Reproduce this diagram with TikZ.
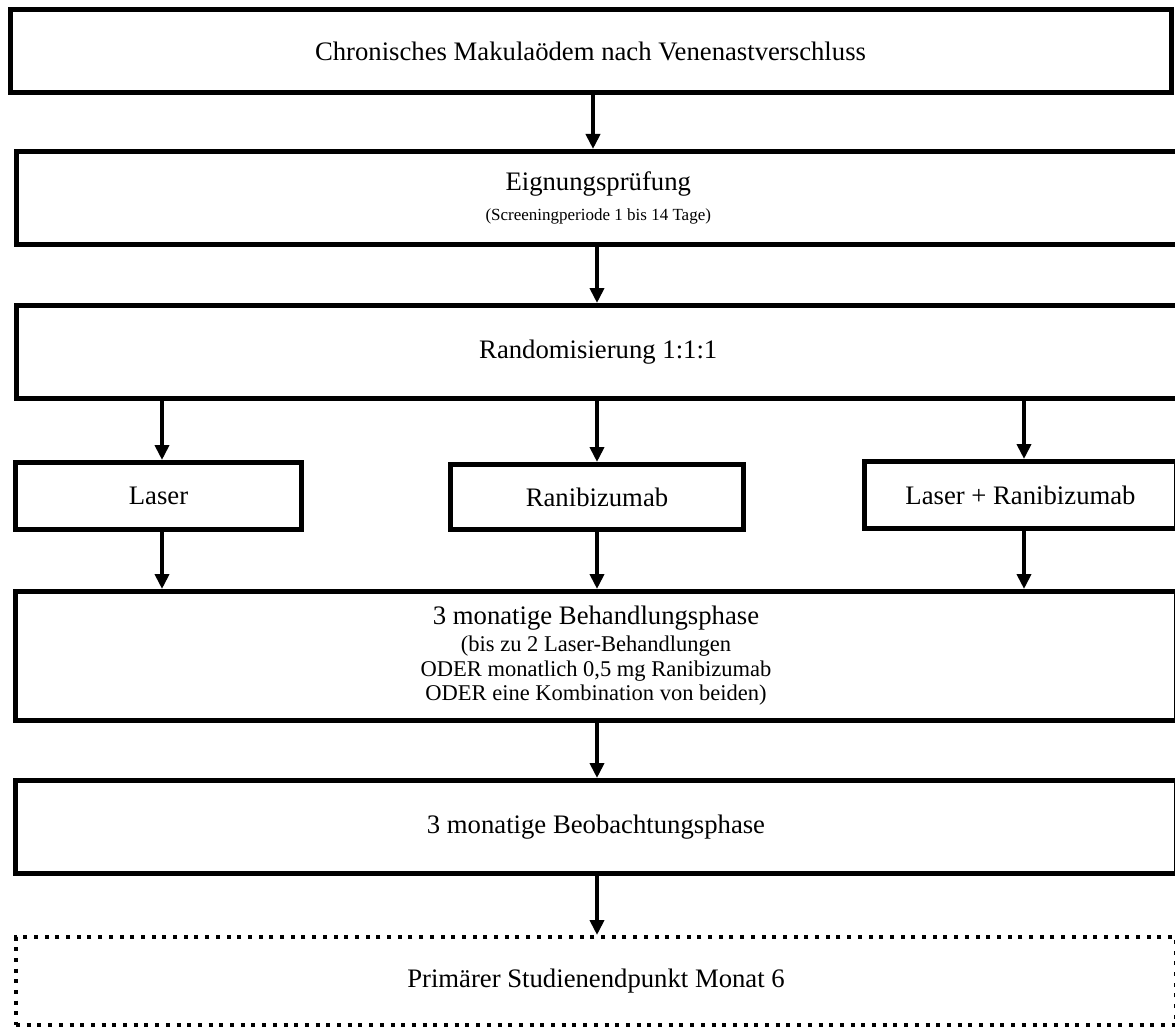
\documentclass[tikz,border=0pt]{standalone}
\usepackage{fontspec}
\setmainfont{Liberation Serif}
\usetikzlibrary{arrows.meta}
\newcommand\fbig{\fontsize{26.7}{30}\selectfont}
\newcommand\fsubt{\fontsize{22.5}{24.5}\selectfont}
\newcommand\fsmallt{\fontsize{17}{20}\selectfont}
\begin{document}
\begin{tikzpicture}[x=1pt,y=-1pt,
  box/.style={draw, line width=5pt, rectangle, inner sep=0pt, align=center, font=\fbig},
  dotbox/.style={draw, line width=4pt, dash pattern=on 4pt off 6.7pt, rectangle, inner sep=0pt, align=center, font=\fbig},
  arr/.style={line width=4pt, -{Triangle[width=14pt,length=15pt]}}]
\useasboundingbox (0,0) rectangle (1175,1027);
\clip (0,0) rectangle (1175,1027);
\fill[white] (0,0) rectangle (1175,1027);

\node[box, minimum width=1161pt, minimum height=83pt] (b1) at (590.5,51) {Chronisches Makulaödem nach Venenastverschluss};
\node[box, minimum width=1163.5pt, minimum height=93pt] (b2) at (598.25,198) {Eignungsprüfung\\[0pt]{\fsmallt (Screeningperiode 1 bis 14 Tage)}};
\node[box, minimum width=1163.5pt, minimum height=93pt] (b3) at (598.25,352) {Randomisierung 1:1:1};
\node[box, minimum width=286pt, minimum height=67pt] (l) at (158.5,496) {Laser};
\node[box, minimum width=293pt, minimum height=65pt] (r) at (597,497) {Ranibizumab};
\node[box, minimum width=312pt, minimum height=67pt] (lr) at (1020.5,495) {Laser + Ranibizumab};
\node[box, minimum width=1161pt, minimum height=129pt] (b5) at (596,656) {3 monatige Behandlungsphase\\[-3pt]{\fsubt (bis zu 2 Laser-Behandlungen}\\[-5.5pt]{\fsubt ODER monatlich 0,5 mg Ranibizumab}\\[-5.5pt]{\fsubt ODER eine Kombination von beiden)}};
\node[box, minimum width=1161pt, minimum height=93pt] (b6) at (596,827) {3 monatige Beobachtungsphase};
\node[dotbox, minimum width=1160pt, minimum height=88pt] (b7) at (596,981) {Primärer Studienendpunkt Monat 6};

\coordinate (ca) at (593,0);
\coordinate (cb) at (597,0);
\coordinate (cl) at (162,0);
\coordinate (cr) at (1024,0);
\draw[arr] (b1.south -| ca) -- (b2.north -| ca);
\draw[arr] (b2.south -| cb) -- (b3.north -| cb);
\draw[arr] (b3.south -| cl) -- (l.north -| cl);
\draw[arr] (b3.south -| cb) -- (r.north -| cb);
\draw[arr] (b3.south -| cr) -- (lr.north -| cr);
\draw[arr] (l.south -| cl) -- (b5.north -| cl);
\draw[arr] (r.south -| cb) -- (b5.north -| cb);
\draw[arr] (lr.south -| cr) -- (b5.north -| cr);
\draw[arr] (b5.south -| cb) -- (b6.north -| cb);
\draw[arr] (b6.south -| cb) -- (b7.north -| cb);
\end{tikzpicture}
\end{document}
